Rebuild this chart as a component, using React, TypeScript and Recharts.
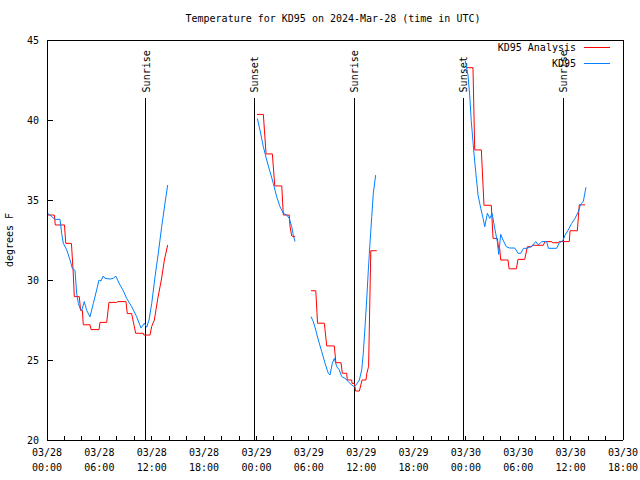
import { LineChart, Line, XAxis, YAxis, ReferenceLine } from "recharts";

const FONT = "'DejaVu Sans Mono', monospace";

// hours since 03/28 00:00 UTC; null breaks the line
const analysisHours = [
  0, 0.84, 0.95, 2.0, 2.15, 2.8, 3.0, 3.13, 3.7, 3.85, 4.05, 4.16, 4.93, 5.05, 5.96, 6.07, 6.84, 7.1, 8.0, 8.1,
  9.05, 9.2, 9.7, 10.16, 11.03, 11.1, 11.8, 12.0, 12.3, 12.7, 13.1, 13.45, 13.83,
  18.9,
  24.06, 24.79, 25.1, 25.82, 26.1, 26.9, 27.08, 27.76, 27.85, 28.04, 28.45,
  29.3,
  30.25, 30.8, 31.0, 31.78, 32.05, 32.92, 33.1, 33.69, 33.84, 34.34, 34.41, 34.91, 34.95, 35.21, 35.37, 35.79,
  36.1, 36.55, 36.65, 36.85, 37.1, 37.78,
  42,
  48.1, 48.81, 49.01, 49.77, 50.07, 50.91, 51.11, 51.6, 51.75, 51.87, 51.99, 52.82, 52.95, 53.78, 53.97, 54.74,
  55.04, 55.54, 55.6, 56.87, 57.06, 57.83, 57.9, 58.59, 58.7, 59.85, 59.93, 60.77, 60.99, 61.65,
];
const analysisTemps = [
  34.06, 34.06, 33.44, 33.44, 32.29, 32.29, 30.5, 28.96, 28.96, 28.1, 28.1, 27.2, 27.2, 26.9, 26.9, 27.35, 27.35, 28.6, 28.6, 28.65,
  28.65, 27.9, 27.9, 26.67, 26.67, 26.56, 26.56, 27.1, 27.5, 28.86, 30.0, 31.25, 32.19,
  null,
  40.35, 40.35, 37.88, 37.88, 35.88, 35.88, 34.06, 34.06, 33.33, 32.75, 32.7,
  null,
  29.33, 29.33, 27.3, 27.3, 25.88, 25.88, 24.83, 24.83, 24.17, 24.17, 23.75, 23.75, 23.54, 23.54, 23.06, 23.06,
  23.75, 23.75, 24.17, 24.6, 31.83, 31.83,
  null,
  43.27, 43.27, 38.13, 38.13, 34.67, 34.67, 32.6, 32.6, 31.98, 31.98, 31.25, 31.25, 30.7, 30.7, 31.29, 31.29,
  32.08, 32.08, 32.17, 32.17, 32.4, 32.4, 32.33, 32.33, 32.4, 32.4, 33.08, 33.08, 34.7, 34.7,
];

const stationHours = [
  0.08, 0.54, 0.92, 1.49, 1.68, 1.87, 2.26, 2.64, 2.9, 3.21, 3.4, 3.59, 3.78, 3.98, 4.27, 4.55, 4.93, 5.31, 5.69, 5.96,
  6.19, 6.45, 6.65, 7.22, 7.6, 7.87, 8.36, 8.74, 9.13, 9.71, 10.28, 10.77, 11.15, 11.42, 11.69, 12.0, 12.38, 12.75,
  13.14, 13.52, 13.83,
  18.9,
  24.1, 24.4, 24.79, 25.17, 25.55, 25.93, 26.32, 26.7, 27.08, 27.47, 27.76, 28.04, 28.22, 28.42,
  29.3,
  30.25, 30.51, 30.79, 31.09, 31.48, 31.86, 32.23, 32.43, 32.69, 32.92, 33.2, 33.49, 33.77, 34.15, 34.53, 34.91,
  35.21, 35.49, 35.79, 36.06, 36.24, 36.44, 36.63, 36.82, 37.01, 37.21, 37.39, 37.66,
  42,
  47.93, 48.24, 48.43, 48.62, 48.81, 49.01, 49.2, 49.39, 49.7, 49.97, 50.16, 50.46, 50.73, 51.0, 51.3, 51.6, 51.76,
  51.99, 52.25, 52.63, 53.0, 53.6, 53.97, 54.28, 54.6, 55.0, 55.54, 56.0, 56.3, 56.68, 57.26, 57.45, 58.4, 58.7,
  59.09, 59.36, 59.73, 60.12, 60.5, 60.88, 61.15, 61.45, 61.76,
];
const stationTemps = [
  34.17, 33.96, 33.79, 33.79, 32.92, 32.29, 31.88, 31.25, 30.73, 30.6, 29.17, 28.54, 28.23, 28.1, 28.65, 28.1, 27.7, 28.54, 29.38, 30.0,
  29.94, 30.25, 30.1, 30.06, 30.1, 30.25, 29.69, 29.33, 28.85, 28.33, 27.7, 27.0, 27.3, 27.05, 27.5, 28.54, 30.2, 31.67,
  33.33, 34.8, 35.94,
  null,
  40.1, 39.38, 38.33, 37.5, 36.77, 36.04, 35.2, 34.58, 34.17, 34.06, 33.85, 33.33, 32.8, 32.4,
  null,
  27.71, 27.4, 26.88, 26.25, 25.52, 24.79, 24.17, 24.06, 24.79, 25.1, 24.58, 24.38, 23.96, 23.85, 23.65, 23.44,
  23.33, 23.5, 23.75, 24.38, 25.42, 27.08, 28.75, 30.63, 32.29, 33.96, 35.42, 36.56,
  null,
  43.7, 42.8, 41.56, 39.9, 38.65, 37.4, 36.35, 35.31, 34.48, 33.85, 33.33, 34.17, 33.85, 34.17, 33.23, 32.4, 31.6,
  32.85, 32.5, 32.08, 32.0, 32.0, 31.67, 31.67, 31.98, 31.98, 32.1, 32.4, 32.19, 32.4, 32.4, 31.98, 31.98, 32.33,
  32.44, 32.8, 33.13, 33.54, 33.85, 34.27, 34.75, 34.9, 35.8,
];

const sunHours = [11.34, 23.72, 35.18, 47.67, 59.13];
const sunLabels = ["Sunrise", "Sunset", "Sunrise", "Sunset", "Sunrise"];

const xTickHours = [0, 2, 4, 6, 8, 10, 12, 14, 16, 18, 20, 22, 24, 26, 28, 30, 32, 34, 36, 38, 40, 42, 44, 46, 48, 50, 52, 54, 56, 58, 60, 62, 64, 66];
const xLabelDates = ["03/28", "03/28", "03/28", "03/28", "03/29", "03/29", "03/29", "03/29", "03/30", "03/30", "03/30", "03/30"];
const xLabelTimes = ["00:00", "06:00", "12:00", "18:00", "00:00", "06:00", "12:00", "18:00", "00:00", "06:00", "12:00", "18:00"];
const yTicks = [20, 25, 30, 35, 40, 45];

const analysisData = analysisHours.map((h, i) => ({ h, t: analysisTemps[i] }));
const stationData = stationHours.map((h, i) => ({ h, t: stationTemps[i] }));

const seriesNames = ["KD95 Analysis", "KD95"];
const seriesColors = ["#ff0000", "#0080ff"];

const BottomTick = (props: any) => {
  const { x, y, payload } = props;
  const major = payload.value % 6 === 0;
  const i = payload.value / 6;
  return (
    <g>
      <line x1={x} y1={y} x2={x} y2={y - 4} stroke="#000" shapeRendering="crispEdges" />
      {major && (
        <text x={x} y={y + 16} textAnchor="middle" fontSize={10} fontFamily={FONT} fill="#000">
          <tspan x={x}>{xLabelDates[i]}</tspan>
          <tspan x={x} y={y + 31}>{xLabelTimes[i]}</tspan>
        </text>
      )}
    </g>
  );
};

const TopTick = (props: any) => {
  const { x, y } = props;
  return <line x1={x} y1={y} x2={x} y2={y + 4} stroke="#000" shapeRendering="crispEdges" />;
};

const LeftTick = (props: any) => {
  const { x, y, payload } = props;
  return (
    <g>
      <line x1={x} y1={y} x2={x + 6} y2={y} stroke="#000" shapeRendering="crispEdges" />
      <text x={x - 8} y={y + 3.5} textAnchor="end" fontSize={10} fontFamily={FONT} fill="#000">
        {payload.value}
      </text>
    </g>
  );
};

const RightTick = (props: any) => {
  const { x, y } = props;
  return <line x1={x} y1={y} x2={x - 6} y2={y} stroke="#000" shapeRendering="crispEdges" />;
};

const sunLabel = (text: string) => (props: any) => {
  const vb = props.viewBox;
  const tx = vb.x + 4;
  const ty = vb.y - 6;
  return (
    <text x={tx} y={ty} transform={`rotate(-90 ${tx} ${ty})`} textAnchor="start" fontSize={10} fontFamily={FONT} fill="#000">
      {text}
    </text>
  );
};

const yLabel = (props: any) => {
  const vb = props.viewBox;
  const tx = vb.x + 13;
  const ty = vb.y + vb.height / 2;
  return (
    <text x={tx} y={ty} transform={`rotate(-90 ${tx} ${ty})`} textAnchor="middle" fontSize={10} fontFamily={FONT} fill="#000">
      degrees F
    </text>
  );
};

export default function App() {
  return (
    <div style={{ position: "absolute", left: 0, top: 0, width: 640, height: 480, background: "#fff" }}>
      <LineChart width={640} height={480} margin={{ top: 30, right: 7, bottom: 0, left: 0 }}>
        <XAxis
          dataKey="h"
          type="number"
          domain={[0, 66]}
          ticks={xTickHours}
          interval={0}
          height={40}
          tickSize={0}
          tickMargin={0}
          tickLine={false}
          axisLine={{ stroke: "#000", shapeRendering: "crispEdges" }}
          tick={<BottomTick />}
          allowDataOverflow
        />
        <XAxis
          xAxisId="top"
          orientation="top"
          dataKey="h"
          type="number"
          domain={[0, 66]}
          ticks={xTickHours}
          interval={0}
          height={10}
          tickSize={0}
          tickMargin={0}
          tickLine={false}
          axisLine={{ stroke: "#000", shapeRendering: "crispEdges" }}
          tick={<TopTick />}
        />
        <YAxis
          type="number"
          domain={[20, 45]}
          ticks={yTicks}
          interval={0}
          width={47}
          tickSize={0}
          tickMargin={0}
          tickLine={false}
          axisLine={{ stroke: "#000", shapeRendering: "crispEdges" }}
          tick={<LeftTick />}
          label={yLabel}
          allowDataOverflow
        />
        <YAxis
          yAxisId="right"
          orientation="right"
          type="number"
          domain={[20, 45]}
          ticks={yTicks}
          interval={0}
          width={10}
          tickSize={0}
          tickMargin={0}
          tickLine={false}
          axisLine={{ stroke: "#000", shapeRendering: "crispEdges" }}
          tick={<RightTick />}
        />
        {sunHours.map((h, i) => (
          <ReferenceLine
            key={i}
            segment={[
              { x: h, y: 20 },
              { x: h, y: 41.35 },
            ]}
            stroke="#000"
            strokeWidth={1}
            shapeRendering="crispEdges"
            label={sunLabel(sunLabels[i])}
          />
        ))}
        <Line
          data={analysisData}
          dataKey="t"
          name={seriesNames[0]}
          type="linear"
          stroke={seriesColors[0]}
          strokeWidth={1}
          dot={false}
          activeDot={false}
          connectNulls={false}
          isAnimationActive={false}
        />
        <Line
          data={stationData}
          dataKey="t"
          name={seriesNames[1]}
          type="linear"
          stroke={seriesColors[1]}
          strokeWidth={1}
          dot={false}
          activeDot={false}
          connectNulls={false}
          isAnimationActive={false}
        />
      </LineChart>
      <svg width={640} height={80} style={{ position: "absolute", left: 0, top: 0, pointerEvents: "none" }}>
        <text x={333} y={22} textAnchor="middle" fontSize={10} fontFamily={FONT} fill="#000">
          Temperature for KD95 on 2024-Mar-28 (time in UTC)
        </text>
        {seriesNames.map((name, i) => (
          <g key={name}>
            <text x={576} y={50.5 + i * 16} textAnchor="end" fontSize={10} fontFamily={FONT} fill="#000">
              {name}
            </text>
            <line x1={584} y1={47.5 + i * 16} x2={610} y2={47.5 + i * 16} stroke={seriesColors[i]} strokeWidth={1.3} shapeRendering="crispEdges" />
          </g>
        ))}
      </svg>
    </div>
  );
}
